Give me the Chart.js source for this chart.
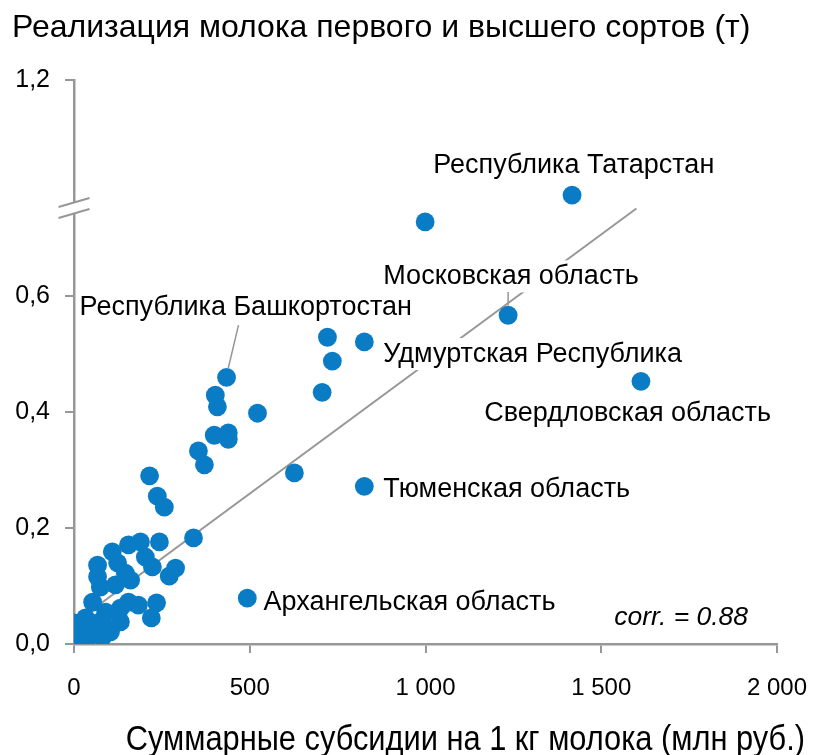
<!DOCTYPE html>
<html>
<head>
<meta charset="utf-8">
<script src="https://cdn.jsdelivr.net/npm/chart.js@4.4.0/dist/chart.umd.min.js"></script>
<style>
    html, body { margin: 0; padding: 0; background: #fff; }
    #wrap { width: 816px; height: 755px; }
</style>
</head>
<body>
<div id="wrap"><canvas id="milkChart" width="816" height="755"></canvas></div>
<script>
// Суммарные субсидии на 1 кг молока (млн руб.) -> x, реализация молока (т) -> y
const subsidies = [
    1417, 999, 1235, 826, 1613, 826, 493, 434,
    721, 735, 706, 522, 402, 408, 399, 439, 439, 354, 371, 627,
    215, 237, 257, 340, 243, 189, 155, 109, 203, 124, 67, 223,
    289, 146, 271, 67, 161, 75, 118, 53, 155, 183, 235, 132,
    90, 220, 132, 81, 53, 4, 70, 24, 4, 81, 41, 4, 33, 104, 18
];
const sales = [
    0.774, 0.728, 0.567, 0.521, 0.453, 0.272, 0.079, 0.460,
    0.529, 0.488, 0.434, 0.398, 0.429, 0.409, 0.360, 0.364, 0.353, 0.333, 0.309, 0.295,
    0.290, 0.255, 0.236, 0.183, 0.176, 0.176, 0.171, 0.159, 0.150, 0.140, 0.136, 0.133,
    0.131, 0.122, 0.117, 0.116, 0.110, 0.098, 0.102, 0.072, 0.072, 0.067, 0.071, 0.062,
    0.055, 0.045, 0.038, 0.041, 0.036, 0.036, 0.024, 0.024, 0.019, 0.012, 0.012, 0.010, 0.045, 0.021, 0.007
];

// линия тренда (два конца)
const trendX = [0, 1600];
const trendY = [0.036, 0.751];

// оси
const xTickValues = [0, 500, 1000, 1500, 2000];
const xTickLabels = ['0', '500', '1 000', '1 500', '2 000'];
const yTickValues = [0, 0.2, 0.4, 0.6, 0.972];
const yTickLabels = ['0,0', '0,2', '0,4', '0,6', '1,2'];
const yBreakValue = 0.752;

const pointNames = [
    'Республика Татарстан', 'Московская область', 'Республика Башкортостан',
    'Удмуртская Республика', 'Свердловская область', 'Тюменская область',
    'Архангельская область'
];
// где стоят подписи (в единицах осей)
const nameAnchorX = [1022, 880, 16, 880, 1167, 880, 539];
const nameAnchorY = [0.826, 0.634, 0.581, 0.5, 0.398, 0.267, 0.072];

const leaders = [
    { from: [468, 0.550], to: [439, 0.476] },
    { from: [1235, 0.607], to: [1235, 0.584] }
];

const FONT = '"Liberation Sans", Arial, sans-serif';
const GRAY = '#979797';
const BLUE = '#0a7cc6';

const annotationPlugin = {
    id: 'annotations',
    afterDatasetsDraw(chart) {
        const { ctx, scales: { x, y } } = chart;
        ctx.save();
        ctx.font = '27px ' + FONT;
        ctx.textBaseline = 'middle';
        ctx.textAlign = 'left';
        pointNames.forEach((name, i) => {
            const px = x.getPixelForValue(nameAnchorX[i]);
            const py = y.getPixelForValue(nameAnchorY[i]);
            const w = ctx.measureText(name).width;
            ctx.fillStyle = '#fff';
            ctx.fillRect(px - 2, py - 16, w + 4, 32);
            ctx.fillStyle = '#000';
            ctx.fillText(name, px, py);
        });

        ctx.strokeStyle = GRAY;
        ctx.lineWidth = 1.5;
        leaders.forEach(l => {
            ctx.beginPath();
            ctx.moveTo(x.getPixelForValue(l.from[0]), y.getPixelForValue(l.from[1]));
            ctx.lineTo(x.getPixelForValue(l.to[0]), y.getPixelForValue(l.to[1]));
            ctx.stroke();
        });

        ctx.font = 'italic 26.5px ' + FONT;
        ctx.fillStyle = '#000';
        ctx.fillText('corr. = 0.88', x.getPixelForValue(1537), y.getPixelForValue(0.045));
        ctx.restore();
    },
    afterDraw(chart) {
        const { ctx, chartArea, scales: { y } } = chart;
        ctx.save();
        // разрыв оси Y
        const yb = y.getPixelForValue(yBreakValue);
        const ax = chartArea.left;
        ctx.fillStyle = '#fff';
        ctx.fillRect(ax - 4, yb - 5, 8, 10);
        ctx.strokeStyle = GRAY;
        ctx.lineWidth = 2;
        [-5.5, 5.5].forEach(dy => {
            ctx.beginPath();
            ctx.moveTo(ax - 15.5, yb + dy + 4.5);
            ctx.lineTo(ax + 15.5, yb + dy - 4.5);
            ctx.stroke();
        });

        // подпись оси X (узкое начертание)
        ctx.font = '35px ' + FONT;
        ctx.fillStyle = '#000';
        ctx.textAlign = 'right';
        ctx.textBaseline = 'middle';
        ctx.translate(chart.width - 11, 740);
        ctx.scale(0.88, 1);
        ctx.fillText('Суммарные субсидии на 1 кг молока (млн руб.)', 0, 0);
        ctx.restore();
    }
};

const axisGrid = {
    display: true,
    drawOnChartArea: false,
    drawTicks: true,
    tickLength: 9,
    color: GRAY,
    lineWidth: 2
};

new Chart(document.getElementById('milkChart').getContext('2d'), {
    type: 'scatter',
    data: {
        datasets: [
            {
                label: 'Регионы',
                data: subsidies.map((v, i) => ({ x: v, y: sales[i] })),
                backgroundColor: BLUE,
                borderWidth: 0,
                pointRadius: 9.4,
                pointHoverRadius: 9.4,
                order: 1
            },
            {
                type: 'line',
                label: 'Тренд',
                data: trendX.map((v, i) => ({ x: v, y: trendY[i] })),
                borderColor: GRAY,
                borderWidth: 2,
                pointRadius: 0,
                fill: false,
                order: 2
            }
        ]
    },
    options: {
        responsive: false,
        animation: false,
        devicePixelRatio: 1,
        layout: { padding: { left: 12, right: 39, top: 0, bottom: 0 } },
        plugins: {
            legend: { display: false },
            tooltip: { enabled: false },
            title: {
                display: true,
                text: 'Реализация молока первого и высшего сортов (т)',
                align: 'start',
                color: '#000',
                font: { size: 32, family: FONT, weight: 'normal' },
                padding: { top: 9, bottom: 33 }
            }
        },
        scales: {
            x: {
                type: 'linear',
                min: 0,
                max: 2000,
                afterBuildTicks: s => { s.ticks = xTickValues.map(v => ({ value: v })); },
                afterFit: s => {
                    s.height = 111;
                    s.paddingLeft = 0;
                    s.paddingRight = 0;
                },
                ticks: {
                    color: '#000',
                    padding: 21,
                    maxRotation: 0,
                    font: { size: 24, family: FONT },
                    callback: (v, i) => xTickLabels[i]
                },
                grid: axisGrid,
                border: { display: true, color: GRAY, width: 2.5 }
            },
            y: {
                type: 'linear',
                min: 0,
                max: yTickValues[yTickValues.length - 1],
                afterBuildTicks: s => { s.ticks = yTickValues.map(v => ({ value: v })); },
                afterFit: s => {
                    s.width = 62;
                    s.paddingTop = 0;
                    s.paddingBottom = 0;
                },
                ticks: {
                    color: '#000',
                    padding: 15,
                    font: { size: 25, family: FONT },
                    callback: (v, i) => yTickLabels[i]
                },
                grid: axisGrid,
                border: { display: true, color: GRAY, width: 2.5 }
            }
        }
    },
    plugins: [annotationPlugin]
});
</script>
</body>
</html>
